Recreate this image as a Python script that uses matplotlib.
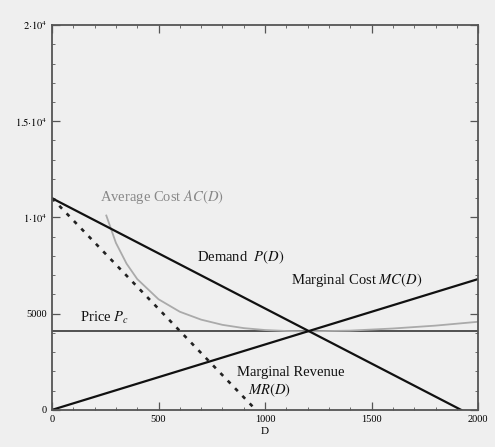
import matplotlib
matplotlib.use("Agg")
import matplotlib.pyplot as plt
from matplotlib.ticker import MultipleLocator, FixedLocator

plt.rcParams['font.family'] = ['Liberation Serif', 'DejaVu Serif']
plt.rcParams['mathtext.fontset'] = 'stix'

# Data
demand_D = [0, 1920]
demand_P = [11000, 0]
mr_D = [0, 957]
mr_P = [11000, 0]
mc_D = [0, 2000]
mc_P = [0, 6800]
price_D = [0, 2000]
price_P = [4100, 4100]
ac_D = [255, 300, 350, 400, 500, 600, 700, 800, 900, 1000, 1100, 1200, 1400, 1600, 1800, 2000]
ac_P = [10100, 8680, 7600, 6800, 5750, 5100, 4690, 4420, 4250, 4150, 4100, 4080, 4120, 4230, 4380, 4580]

x_ticks = [0, 500, 1000, 1500, 2000]
x_tick_labels = ['0', '500', '1000', '1500', '2000']
y_ticks = [0, 5000, 10000, 15000, 20000]
y_tick_labels = ['0', '5000', r'$1{\cdot}10^4$', r'$1.5{\cdot}10^4$', r'$2{\cdot}10^4$']

bg = '#efefef'
fig = plt.figure(figsize=(4.95, 4.47), dpi=100, facecolor=bg)
ax = fig.add_axes([0.105, 0.083, 0.861, 0.861], facecolor=bg)

ax.plot(price_D, price_P, color='#444444', lw=1.3)
ax.plot(ac_D, ac_P, color='#aaaaaa', lw=1.3)
ax.plot(demand_D, demand_P, color='#111111', lw=1.6)
ax.plot(mc_D, mc_P, color='#111111', lw=1.6)
ax.plot(mr_D, mr_P, color='#222222', lw=1.9, ls=(0, (1.5, 2.5)))

ax.set_xlim(0, 2000)
ax.set_ylim(0, 20000)
ax.xaxis.set_major_locator(FixedLocator(x_ticks))
ax.set_xticklabels(x_tick_labels)
ax.yaxis.set_major_locator(FixedLocator(y_ticks))
ax.set_yticklabels(y_tick_labels)
ax.xaxis.set_minor_locator(MultipleLocator(100))
ax.yaxis.set_minor_locator(MultipleLocator(1000))
ax.tick_params(which='both', direction='in', top=True, right=True, labelsize=7.5, color='#555555')
ax.tick_params(which='major', length=6, width=0.9)
ax.tick_params(which='minor', length=2.5, width=0.6)
for s in ax.spines.values():
    s.set_color('#555555')
    s.set_linewidth(1.3)

ax.set_xlabel('D', fontsize=8, labelpad=2)

fs = 10.5
ax.text(225, 11050, r'Average Cost $AC(D)$', color='#888888', fontsize=fs, va='center')
ax.text(680, 7950, r'Demand  $P(D)$', color='#111111', fontsize=fs, va='center')
ax.text(1120, 6750, r'Marginal Cost $MC(D)$', color='#111111', fontsize=fs, va='center')
ax.text(130, 4780, r'Price $P_c$', color='#111111', fontsize=fs, va='center')
ax.text(870, 1920, 'Marginal Revenue', color='#111111', fontsize=fs, va='center')
ax.text(920, 1040, r'$MR(D)$', color='#111111', fontsize=fs, va='center')

fig.savefig('out.png', dpi=100, facecolor=bg)
